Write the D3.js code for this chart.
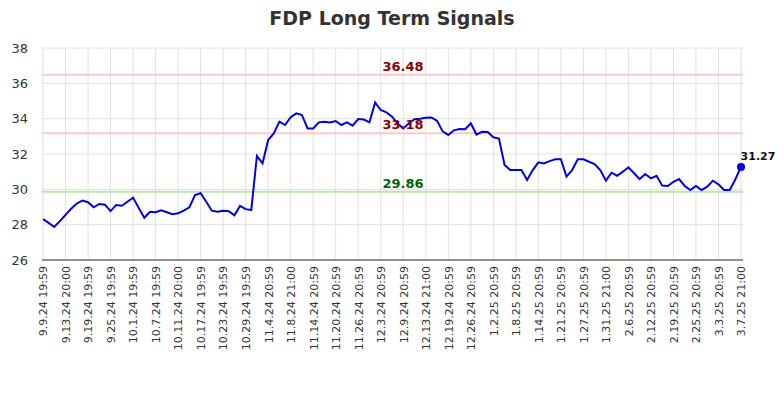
<!DOCTYPE html>
<html><head><meta charset="utf-8">
<script src="https://cdn.jsdelivr.net/npm/d3@7"></script>
<style>
body{margin:0;background:#fff;}
svg text{font-family:"DejaVu Sans",sans-serif;}
</style></head>
<body><svg id="c" width="784" height="400"></svg>
<script>
const tickLabels = ["9.9.24 19:59","9.13.24 20:00","9.19.24 19:59","9.25.24 19:59","10.1.24 19:59","10.7.24 19:59","10.11.24 20:00","10.17.24 19:59","10.23.24 19:59","10.29.24 19:59","11.4.24 20:59","11.8.24 21:00","11.14.24 20:59","11.20.24 20:59","11.26.24 20:59","12.3.24 20:59","12.9.24 20:59","12.13.24 21:00","12.19.24 20:59","12.26.24 20:59","1.2.25 20:59","1.8.25 20:59","1.14.25 20:59","1.21.25 20:59","1.27.25 20:59","1.31.25 21:00","2.6.25 20:59","2.12.25 20:59","2.19.25 20:59","2.25.25 20:59","3.3.25 20:59","3.7.25 21:00"];
const prices = [
28.32,28.10,27.87,28.20,28.55,28.90,29.20,29.36,29.27,28.98,
29.17,29.13,28.77,29.11,29.07,29.30,29.53,28.95,28.39,28.73,
28.70,28.81,28.70,28.59,28.64,28.80,28.98,29.68,29.78,29.30,
28.79,28.73,28.79,28.76,28.53,29.06,28.88,28.83,31.89,31.47,
32.79,33.17,33.83,33.64,34.08,34.30,34.21,33.45,33.45,33.79,
33.83,33.79,33.87,33.64,33.79,33.60,33.98,33.95,33.79,34.92,
34.49,34.36,34.11,33.72,33.45,33.74,33.97,34.00,34.05,34.07,
33.88,33.28,33.08,33.34,33.42,33.40,33.74,33.10,33.26,33.24,
32.95,32.87,31.38,31.09,31.09,31.09,30.53,31.09,31.53,31.47,
31.60,31.70,31.70,30.72,31.09,31.70,31.70,31.56,31.43,31.09,
30.49,30.94,30.77,31.00,31.25,30.91,30.58,30.87,30.62,30.77,
30.21,30.19,30.43,30.58,30.19,29.96,30.19,29.96,30.15,30.49,
30.28,29.96,29.96,30.57,31.27];
const levelValues = [36.48, 33.18, 29.86];
const levelLineColors = ["#ffc8c8", "#ffc8c8", "#b8e6a8"];
const levelTextColors = ["#8b0000", "#8b0000", "#006400"];
const yTicks = [26,28,30,32,34,36,38];

const svg = d3.select("#c");
const x = d3.scaleLinear().domain([0, prices.length - 1]).range([43, 741]);
const y = d3.scaleLinear().domain([26, 38]).range([260, 48]);
const labelIdx = tickLabels.map((d, i) => i * 4);

svg.append("text").attr("x", 392).attr("y", 25).attr("text-anchor", "middle")
  .attr("font-size", 19).attr("font-weight", "bold").attr("fill", "#333").text("FDP Long Term Signals");

// grid
svg.append("g").selectAll("line").data(yTicks).join("line")
  .attr("x1", 42).attr("x2", 743).attr("y1", d => y(d)).attr("y2", d => y(d))
  .attr("stroke", "#e0e0e0").attr("stroke-width", 1);
svg.append("g").selectAll("line").data(labelIdx).join("line")
  .attr("x1", d => x(d)).attr("x2", d => x(d)).attr("y1", 48).attr("y2", 260)
  .attr("stroke", "#e0e0e0").attr("stroke-width", 1);

// y labels
svg.append("g").selectAll("text").data(yTicks).join("text")
  .attr("x", 28).attr("y", d => y(d)).attr("dy", "0.35em").attr("text-anchor", "end")
  .attr("font-size", 13).attr("fill", "#333").text(d => d);

// x axis
const xAxis = d3.axisBottom(x).tickValues(labelIdx).tickFormat((d, i) => tickLabels[i]).tickSize(0);
const gx = svg.append("g").attr("transform", "translate(0,260)").call(xAxis);
gx.select(".domain").attr("stroke", "#333").attr("d", "M42,0H743");
gx.selectAll("text").attr("font-size", 11).attr("fill", "#333")
  .attr("font-family", "DejaVu Sans")
  .attr("transform", "rotate(-90)").attr("text-anchor", "end")
  .attr("x", -6).attr("y", 0).attr("dy", "0.35em");

// levels
svg.append("g").selectAll("line").data(levelValues).join("line")
  .attr("x1", 42).attr("x2", 743).attr("y1", d => y(d)).attr("y2", d => y(d))
  .attr("stroke", (d, i) => levelLineColors[i]).attr("stroke-width", 2);

// price line
svg.append("path").datum(prices)
  .attr("d", d3.line().x((d, i) => x(i)).y(d => y(d)))
  .attr("fill", "none").attr("stroke", "#0000e0").attr("stroke-width", 2);

svg.append("g").selectAll("text").data(levelValues).join("text")
  .attr("x", 403).attr("y", d => y(d) - 4).attr("text-anchor", "middle")
  .attr("font-size", 13).attr("font-weight", "bold")
  .attr("fill", (d, i) => levelTextColors[i]).text(d => d.toFixed(2));

const last = prices.length - 1;
svg.append("circle").attr("cx", x(last)).attr("cy", y(prices[last])).attr("r", 4).attr("fill", "#0000e0");
svg.append("text").attr("x", x(last) + 17).attr("y", y(prices[last]) - 7).attr("text-anchor", "middle")
  .attr("font-size", 11).attr("font-weight", "bold").attr("fill", "#111").text(prices[last].toFixed(2));
</script></body></html>
